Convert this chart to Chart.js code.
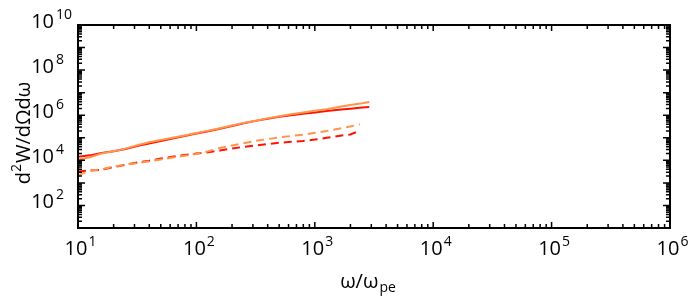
<!DOCTYPE html>
<html>
<head>
<meta charset="utf-8">
<script src="https://cdn.jsdelivr.net/npm/chart.js@4.4.1/dist/chart.umd.min.js"></script>
<style>
html,body{margin:0;padding:0;background:#fff;}
#wrap{width:698px;height:300px;}
</style>
</head>
<body>
<div id="wrap"><canvas id="c" width="698" height="300"></canvas></div>
<script>
// ---- data ----
const freqSolid = [10, 12.6, 15.8, 20, 25.1, 31.6, 39.8, 50.1, 63.1, 79.4, 100, 126, 158, 200, 251, 316, 398, 501, 631, 794, 1000, 1259, 1585, 1995, 2512, 2884];
const freqDashed = [10, 12.6, 15.8, 20, 25.1, 31.6, 39.8, 50.1, 63.1, 79.4, 100, 126, 158, 200, 251, 316, 398, 501, 631, 794, 1000, 1259, 1585, 1995, 2400];
const orangeSolid = [1.07e4, 1.38e4, 2.0e4, 2.51e4, 3.31e4, 4.68e4, 6.31e4, 7.94e4, 1.0e5, 1.26e5, 1.62e5, 2.04e5, 2.63e5, 3.47e5, 4.57e5, 5.75e5, 7.24e5, 8.91e5, 1.10e6, 1.32e6, 1.58e6, 1.86e6, 2.29e6, 2.82e6, 3.39e6, 3.89e6];
const redSolid = [1.45e4, 1.66e4, 2.14e4, 2.51e4, 3.16e4, 4.27e4, 5.50e4, 7.24e4, 9.33e4, 1.20e5, 1.55e5, 1.95e5, 2.51e5, 3.31e5, 4.37e5, 5.62e5, 6.92e5, 8.51e5, 1.0e6, 1.17e6, 1.32e6, 1.55e6, 1.74e6, 1.95e6, 2.19e6, 2.34e6];
const orangeDashed = [2.14e3, 3.55e3, 3.98e3, 5.25e3, 6.31e3, 7.59e3, 9.12e3, 1.10e4, 1.32e4, 1.58e4, 1.91e4, 2.51e4, 3.55e4, 4.57e4, 5.75e4, 7.24e4, 8.71e4, 1.05e5, 1.20e5, 1.38e5, 1.66e5, 2.0e5, 2.51e5, 3.16e5, 3.98e5];
const redDashed = [3.16e3, 3.55e3, 3.80e3, 5.01e3, 6.31e3, 7.94e3, 9.55e3, 1.20e4, 1.45e4, 1.74e4, 2.0e4, 2.29e4, 2.75e4, 3.31e4, 3.98e4, 4.57e4, 5.25e4, 6.03e4, 6.61e4, 7.24e4, 8.32e4, 1.0e5, 1.20e5, 1.41e5, 2.04e5];
const xTickExponents = [1, 2, 3, 4, 5, 6];
const yTickExponents = [2, 4, 6, 8, 10];
const xTitle = ['ω/ω', 'pe'];
const yTitle = ['d', '2', 'W/dΩdω'];

const RED = '#ff1200';
const ORANGE = '#ff944a';
const FONT = '"Open Sans", "DejaVu Sans", sans-serif';

function pts(xs, ys){ return xs.map((x,i)=>({x:x, y:ys[i]})); }

const axesPlugin = {
  id: 'axesPlugin',
  afterDraw(chart){
    const ctx = chart.ctx;
    const xs = chart.scales.x, ys = chart.scales.y;
    const a = chart.chartArea;
    ctx.save();
    ctx.strokeStyle = '#000';
    ctx.fillStyle = '#000';
    // ticks
    ctx.lineWidth = 1.5;
    for (let e = 1; e <= 6; e++) {
      for (let m = 1; m <= 9; m++) {
        if (e === 6 && m > 1) break;
        const v = m * Math.pow(10, e);
        const px = xs.getPixelForValue(v);
        const len = m === 1 ? 6 : 4;
        ctx.beginPath();
        ctx.moveTo(px, a.bottom); ctx.lineTo(px, a.bottom - len);
        ctx.moveTo(px, a.top); ctx.lineTo(px, a.top + len);
        ctx.stroke();
      }
    }
    for (let e = 1; e <= 10; e++) {
      for (let m = 1; m <= 9; m++) {
        if (e === 10 && m > 1) break;
        const v = m * Math.pow(10, e);
        const py = ys.getPixelForValue(v);
        const len = m === 1 ? 7 : 4;
        ctx.beginPath();
        ctx.moveTo(a.left, py); ctx.lineTo(a.left + len, py);
        ctx.moveTo(a.right, py); ctx.lineTo(a.right - len, py);
        ctx.stroke();
      }
    }
    // frame
    ctx.lineWidth = 2;
    ctx.strokeRect(a.left, a.top, a.right - a.left, a.bottom - a.top);

    const big = '20px ' + FONT, small = '14px ' + FONT;
    ctx.textBaseline = 'alphabetic';
    ctx.textAlign = 'left';
    // x tick labels
    xTickExponents.forEach(e => {
      const px = xs.getPixelForValue(Math.pow(10, e));
      ctx.font = big; const w1 = ctx.measureText('10').width;
      ctx.font = small; const w2 = ctx.measureText(String(e)).width;
      const x0 = px - (w1 + w2) / 2 + 2;
      ctx.font = big;
      ctx.fillText('10', x0, a.bottom + 27);
      ctx.font = small;
      ctx.fillText(String(e), x0 + w1 + 1, a.bottom + 18);
    });
    // y tick labels
    yTickExponents.forEach(e => {
      const py = ys.getPixelForValue(Math.pow(10, e));
      ctx.font = big; const w1 = ctx.measureText('10').width;
      const xr = 54;
      ctx.fillText('10', xr - w1, py + 3);
      ctx.font = small;
      ctx.fillText(String(e), xr + 2, py - 6);
    });
    // x title
    {
      ctx.font = '20px ' + FONT;
      const w1 = ctx.measureText(xTitle[0]).width;
      ctx.font = '14px ' + FONT;
      const w2 = ctx.measureText(xTitle[1]).width;
      const cx = (a.left + a.right) / 2 - 6;
      const x0 = cx - (w1 + w2 + 1) / 2;
      ctx.font = '20px ' + FONT;
      ctx.fillText(xTitle[0], x0, 288);
      ctx.font = '14px ' + FONT;
      ctx.fillText(xTitle[1], x0 + w1 + 1, 292);
    }
    // y title (rotated)
    {
      ctx.translate(30, 133);
      ctx.rotate(-Math.PI / 2);
      ctx.font = '20px ' + FONT;
      const wa = ctx.measureText(yTitle[0]).width;
      const wc = ctx.measureText(yTitle[2]).width;
      ctx.font = '14px ' + FONT;
      const wb = ctx.measureText(yTitle[1]).width;
      const tot = wa + wb + wc + 1;
      let x = -tot / 2;
      ctx.font = '20px ' + FONT;
      ctx.fillText(yTitle[0], x, 0); x += wa;
      ctx.font = '14px ' + FONT;
      ctx.fillText(yTitle[1], x, -9); x += wb + 1;
      ctx.font = '20px ' + FONT;
      ctx.fillText(yTitle[2], x, 0);
    }
    ctx.restore();
  }
};

const ds = (label, data, color, dashed) => ({
  label, data, borderColor: color, backgroundColor: color,
  borderWidth: 2, pointRadius: 0, fill: false, tension: 0,
  borderDash: dashed ? [8, 5] : []
});

new Chart(document.getElementById('c'), {
  type: 'line',
  data: {
    datasets: [
      ds('orange solid', pts(freqSolid, orangeSolid), ORANGE, false),
      ds('red solid', pts(freqSolid, redSolid), RED, false),
      ds('orange dashed', pts(freqDashed, orangeDashed), ORANGE, true),
      ds('red dashed', pts(freqDashed, redDashed), RED, true)
    ]
  },
  options: {
    responsive: false,
    animation: false,
    layout: { padding: { left: 70, right: 28, top: 25, bottom: 64 } },
    plugins: { legend: { display: false }, tooltip: { enabled: false } },
    scales: {
      x: { type: 'logarithmic', min: 10, max: 1e6, display: true,
           ticks: { display: false }, grid: { display: false }, border: { display: false } },
      y: { type: 'logarithmic', min: 10, max: 1e10, display: true,
           ticks: { display: false }, grid: { display: false }, border: { display: false } }
    }
  },
  plugins: [axesPlugin]
});
</script>
</body>
</html>
